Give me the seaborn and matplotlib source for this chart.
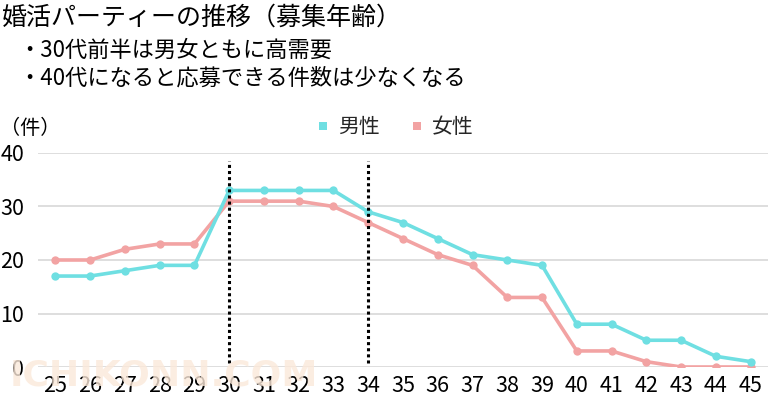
import matplotlib
matplotlib.use("Agg")
import matplotlib.pyplot as plt
from matplotlib.lines import Line2D
import seaborn as sns
import pandas as pd

ages = list(range(25, 46))
men = [17, 17, 18, 19, 19, 33, 33, 33, 33, 29, 27, 24, 21, 20, 19, 8, 8, 5, 5, 2, 1]
women = [20, 20, 22, 23, 23, 31, 31, 31, 30, 27, 24, 21, 19, 13, 13, 3, 3, 1, 0, 0, 0]
series_names = ["男性", "女性"]
title = "婚活パーティーの推移（募集年齢）"
notes = ["・30代前半は男女ともに高需要", "・40代になると応募できる件数は少なくなる"]
unit = "（件）"
marks_x = [30, 34]
yticks = [0, 10, 20, 30, 40]

sns.set_theme(style="white")
plt.rcParams["font.family"] = ["Noto Sans CJK JP", "DejaVu Sans"]

df = pd.DataFrame({
    "age": ages * 2,
    "count": men + women,
    "sex": [series_names[0]] * len(ages) + [series_names[1]] * len(ages),
})

colors = {"男性": "#6fdfe2", "女性": "#f2a3a3"}

W, H = 768, 404
fig = plt.figure(figsize=(W / 100, H / 100), dpi=100)
fig.patch.set_facecolor("white")
ax = fig.add_axes([38 / W, (H - 367) / H, (768 - 38) / W, (367 - 153) / H])

# watermark
fig.text(10 / W, 1 - 376 / H, "ICHIKONN.COM", fontsize=26, fontweight="bold",
         color="#fbe9da", alpha=0.8, va="center", ha="left", zorder=0,
         family=["DejaVu Sans"])
ax.patch.set_alpha(0)

for y in yticks:
    ax.axhline(y, color="#d4d4d4", lw=1.1, zorder=1)

sns.lineplot(data=df, x="age", y="count", hue="sex", palette=colors,
             hue_order=series_names[::-1], marker="o", markersize=6,
             markeredgewidth=0, linewidth=2.6, ax=ax, legend=False, zorder=3)

ax.vlines(marks_x, 0.8, 38.5, colors="black", linestyles=(0, (1, 1)), lw=2.2, zorder=4)

ax.set_xlim(24.5, 45.5)
ax.set_ylim(0, 40)
ax.set_xticks(ages)
ax.set_xticklabels([str(a) for a in ages])
ax.set_yticks(yticks)
ax.set_yticklabels([str(y) for y in yticks])
ax.tick_params(axis="x", length=0, pad=6, labelsize=15.5, labelcolor="black")
ax.tick_params(axis="y", length=0, pad=10, labelsize=15.5, labelcolor="black")
ax.set_xlabel("")
ax.set_ylabel("")
for s in ax.spines.values():
    s.set_visible(False)
ax.grid(False)

fig.text(2 / W, 1 - 18 / H, title, fontsize=18, color="black", va="center", ha="left")
fig.text(18 / W, 1 - 50 / H, notes[0], fontsize=16, color="black", va="center", ha="left")
fig.text(18 / W, 1 - 78 / H, notes[1], fontsize=16, color="black", va="center", ha="left")
fig.text(0 / W, 1 - 128 / H, unit, fontsize=14.5, color="black", va="center", ha="left")

handles = [Line2D([], [], marker="s", linestyle="none", markersize=6,
                  markerfacecolor=colors[n], markeredgewidth=0) for n in series_names]
fig.legend(handles, series_names, loc="center", bbox_to_anchor=(394 / W, 1 - 127 / H),
           ncol=2, frameon=False, fontsize=15, handletextpad=0.3, columnspacing=1.4,
           handlelength=0.8)

fig.savefig("out.png", dpi=100)
